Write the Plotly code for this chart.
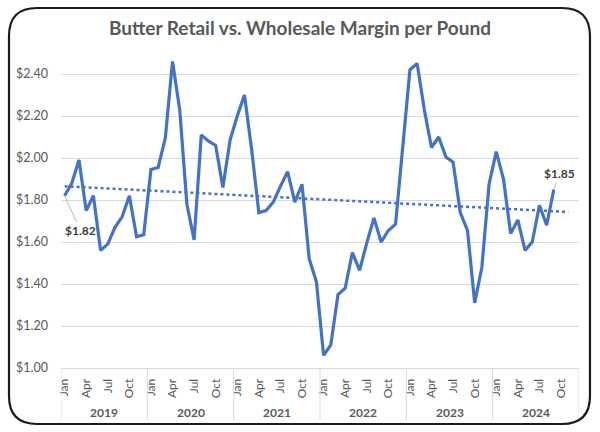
import numpy as np
import plotly.graph_objects as go

# monthly margin, Jan 2019 .. Sep 2024 ($ per lb)
years = ["2019", "2020", "2021", "2022", "2023", "2024"]
month_names = ["Jan", "Feb", "Mar", "Apr", "May", "Jun", "Jul", "Aug", "Sep", "Oct", "Nov", "Dec"]
margin_2019 = [1.82, 1.88, 1.99, 1.75, 1.82, 1.56, 1.59, 1.67, 1.72, 1.82, 1.625, 1.635]
margin_2020 = [1.945, 1.955, 2.095, 2.46, 2.23, 1.78, 1.61, 2.11, 2.08, 2.06, 1.86, 2.085]
margin_2021 = [2.20, 2.30, 2.04, 1.74, 1.75, 1.79, 1.865, 1.935, 1.79, 1.875, 1.52, 1.41]
margin_2022 = [1.06, 1.11, 1.35, 1.38, 1.55, 1.465, 1.595, 1.715, 1.60, 1.655, 1.685, 2.05]
margin_2023 = [2.42, 2.45, 2.23, 2.05, 2.10, 2.005, 1.98, 1.74, 1.655, 1.31, 1.48, 1.875]
margin_2024 = [2.03, 1.90, 1.64, 1.705, 1.56, 1.60, 1.775, 1.68, 1.85]

margin = margin_2019 + margin_2020 + margin_2021 + margin_2022 + margin_2023 + margin_2024
idx = list(range(len(margin)))
labels = [f"{month_names[i % 12]} {years[i // 12]}" for i in idx]

# linear trend, projected 2 periods forward (like the Excel trendline)
slope, icept = np.polyfit(idx, margin, 1)
trend_x = [0, len(margin) - 1 + 2]
trend_y = [icept + slope * x for x in trend_x]

GRAY = "#595959"
BLUE = "#4472C4"
W, H = 600, 432
ML, MR, MT, MB = 61, 21, 53, 64
pw, ph = W - ML - MR, H - MT - MB

def px(x, y):
    return (x - ML) / pw, (H - MB - y) / ph

fig = go.Figure()
fig.add_trace(go.Scatter(x=trend_x, y=trend_y, mode="lines",
                         line=dict(color=BLUE, width=2.5, dash="dot"),
                         hoverinfo="skip", showlegend=False))
fig.add_trace(go.Scatter(x=idx, y=margin, mode="lines", text=labels,
                         line=dict(color=BLUE, width=3.2),
                         hovertemplate="%{text}: $%{y:.2f}<extra></extra>",
                         showlegend=False))

fig.update_layout(
    width=W, height=H,
    margin=dict(l=ML, r=MR, t=MT, b=MB),
    paper_bgcolor="white", plot_bgcolor="white",
    font=dict(family="Lato", color=GRAY),
    title=dict(text="<b>Butter Retail vs. Wholesale Margin per Pound</b>",
               x=0.5, xanchor="center", y=1 - 28 / H, yanchor="middle",
               font=dict(size=19, color=GRAY, family="Lato")),
)

fig.update_yaxes(range=[1.0, 2.5], tick0=1.0, dtick=0.2, tickformat="$.2f",
                 gridcolor="#D9D9D9", gridwidth=1, zeroline=False,
                 showline=False, tickfont=dict(size=12.5, color=GRAY, family="Lato"),
                 ticklabelstandoff=12)

tickvals = [i for i in range(72) if i % 3 == 0]
ticktext = [month_names[i % 12] for i in tickvals]
fig.update_xaxes(range=[-0.5, 71.5], tickvals=tickvals, ticktext=ticktext,
                 tickangle=-90, showgrid=False, zeroline=False,
                 showline=True, linecolor="#D9D9D9", linewidth=1,
                 tickfont=dict(size=12, color=GRAY, family="Lato"),
                 ticklabelstandoff=5)

# year dividers and year labels
for k in range(len(years) + 1):
    fig.add_shape(type="line", xref="x", yref="paper", x0=k * 12 - 0.5, x1=k * 12 - 0.5,
                  y0=0, y1=px(0, 420)[1], line=dict(color="#D9D9D9", width=1))
for k, yr in enumerate(years):
    fig.add_annotation(x=k * 12 + 5.5, y=px(0, 412)[1], xref="x", yref="paper",
                       yanchor="middle", text=f"<b>{yr}</b>", showarrow=False,
                       font=dict(size=12, color=GRAY, family="Lato"))

# data labels for first and last points
fig.add_annotation(x=idx[0], y=margin[0], text=f"<b>${margin[0]:.2f}</b>",
                   showarrow=True, arrowhead=0, arrowwidth=0.8, arrowcolor="#A6A6A6",
                   ax=16, ay=35, font=dict(size=12, color="#404040", family="Lato"))
fig.add_annotation(x=idx[-1], y=margin[-1], text=f"<b>${margin[-1]:.2f}</b>",
                   showarrow=True, arrowhead=0, arrowwidth=0.8, arrowcolor="#A6A6A6",
                   ax=6, ay=-16, font=dict(size=12, color="#404040", family="Lato"))

# rounded outer frame
L, R, T, B, r = 9, 590, 8, 424, 28
pts = [("M", L + r, T), ("L", R - r, T), ("Q", R, T, R, T + r), ("L", R, B - r),
       ("Q", R, B, R - r, B), ("L", L + r, B), ("Q", L, B, L, B - r), ("L", L, T + r),
       ("Q", L, T, L + r, T)]
path = ""
for p in pts:
    cmd, coords = p[0], p[1:]
    segs = []
    for i in range(0, len(coords), 2):
        a, b = px(coords[i], coords[i + 1])
        segs.append(f"{a:.4f},{b:.4f}")
    path += cmd + " " + " ".join(segs) + " "
path += "Z"
fig.add_shape(type="path", path=path, xref="paper", yref="paper",
              line=dict(color="#1A1A1A", width=2.2))

# drop the default page margin so the 600x432 figure fills the window
fig.write_html("out.html", config={"displayModeBar": False},
               post_script="document.body.style.margin='0';")
